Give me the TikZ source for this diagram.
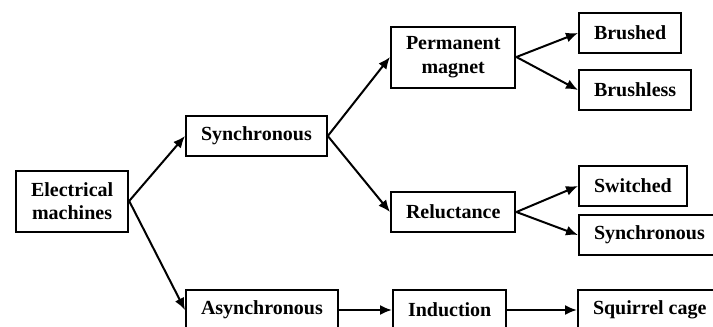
\documentclass[tikz,border=0pt]{standalone}
\usepackage{fontspec}
\setmainfont{Liberation Serif}
\usetikzlibrary{arrows.meta}

\tikzset{
	box/.style={draw, line width=2pt, inner xsep=15pt, inner ysep=4pt,
		minimum height=40pt, align=center, anchor=west,
		font=\fontsize{20}{23.5}\selectfont\bfseries},
	twoline/.style={minimum height=61pt},
	arrow/.style={-{Latex[length=12pt,width=10pt]}, line width=2pt}
}

\begin{document}
\begin{tikzpicture}[x=1pt, y=-1pt]
		
		\useasboundingbox (0,0) rectangle (713,327);
		\fill[white] (0,0) rectangle (713,327);

		\node[box, twoline] (electrical) at (15,201) {Electrical\\machines};
		
		\node[box] (synchronous) at (185,136) {Synchronous};
		\node[box] (asynchronous) at (185,310) {Asynchronous};
		
		\node[box, twoline] (permanent) at (390,57) {Permanent\\magnet};
		\node[box] (reluctance) at (390,212) {Reluctance};
		\node[box] (induction) at (392,310) {Induction};
		
		\node[box] (brushed) at (578,33) {Brushed};
		\node[box] (brushless) at (578,90) {Brushless};
		\node[box] (switched) at (578,186) {Switched};
		\node[box] (synchronousrel) at (578,235) {Synchronous};
		\node[box] (squirrel) at (577,310) {Squirrel cage};
		
		\draw[arrow] (electrical.east) -- (synchronous.west);
		\draw[arrow] (electrical.east) -- (asynchronous.west);
		
		\draw[arrow] (synchronous.east) -- (permanent.west);
		\draw[arrow] (synchronous.east) -- (reluctance.west);
		\draw[arrow] (asynchronous.east) -- (induction.west);
		
		\draw[arrow] (permanent.east) -- (brushed.west);
		\draw[arrow] (permanent.east) -- (brushless.west);
		\draw[arrow] (reluctance.east) -- (switched.west);
		\draw[arrow] (reluctance.east) -- (synchronousrel.west);
		\draw[arrow] (induction.east) -- (squirrel.west);

	\end{tikzpicture}
\end{document}
